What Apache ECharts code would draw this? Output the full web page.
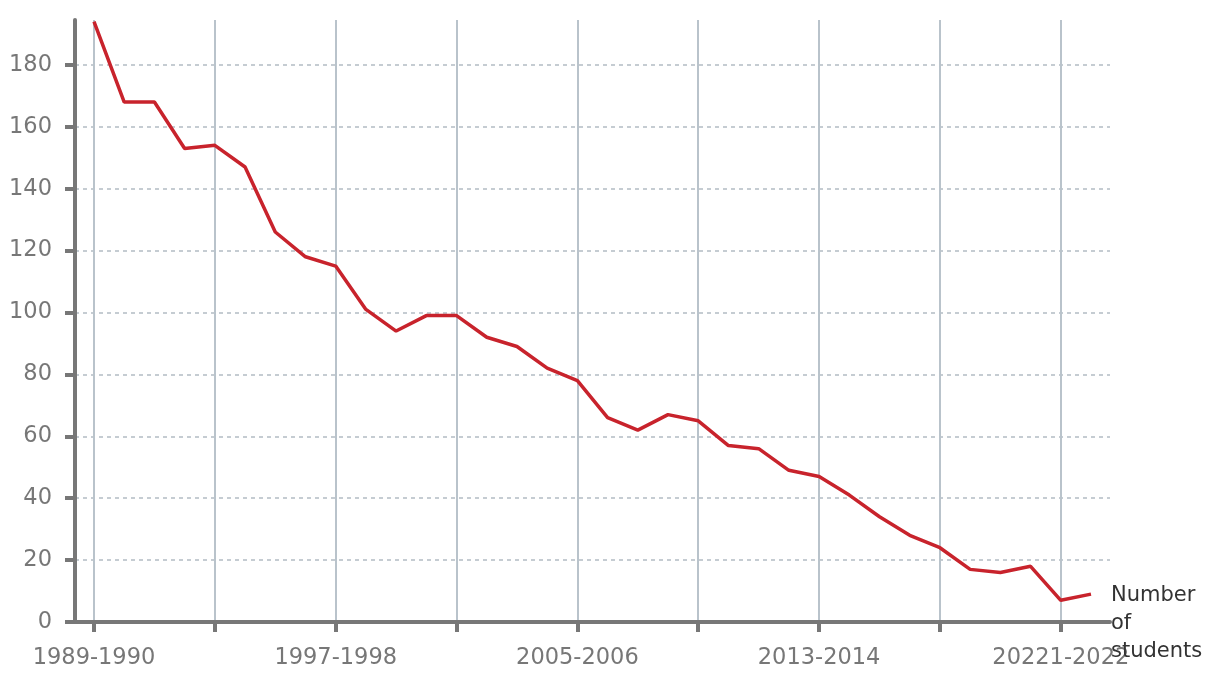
<!DOCTYPE html>
<html>
<head>
<meta charset="utf-8">
<script src="https://cdn.jsdelivr.net/npm/echarts@6/dist/echarts.min.js"></script>
<style>
html,body{margin:0;padding:0;background:#fff;}
#chart{width:1220px;height:682px;}
</style>
</head>
<body>
<div id="chart"></div>
<script>
const categories = [
  "1989-1990","1990-1991","1991-1992","1992-1993","1993-1994","1994-1995","1995-1996","1996-1997",
  "1997-1998","1998-1999","1999-2000","2000-2001","2001-2002","2002-2003","2003-2004","2004-2005",
  "2005-2006","2006-2007","2007-2008","2008-2009","2009-2010","2010-2011","2011-2012","2012-2013",
  "2013-2014","2014-2015","2015-2016","2016-2017","2017-2018","2018-2019","2019-2020","2020-2021",
  "20221-2022","2022-2023"
];
const students = [
  194,168,168,153,154,147,126,118,
  115,101,94,99,99,92,89,82,
  78,66,62,67,65,57,56,49,
  47,41,34,28,24,17,16,18,
  7,9
];
const yTicks = [0,20,40,60,80,100,120,140,160,180];
const seriesLabel = "Number\nof\nstudents";

const FONT = "DejaVu Sans";
const AXIS_COLOR = "#777777";
const YMAX = 194.5;

const chart = echarts.init(document.getElementById('chart'), null, {renderer:'canvas'});
chart.setOption({
  animation: false,
  backgroundColor: '#ffffff',
  grid: [
    {left: 75, right: 110, top: 20, bottom: 60},
    {left: 94, right: 129, top: 20, bottom: 60}
  ],
  xAxis: [
    {
      gridIndex: 0, type: 'value', min: 0, max: 1,
      axisLine: {show: true, lineStyle: {color: AXIS_COLOR, width: 4}},
      axisTick: {show: false}, axisLabel: {show: false}, splitLine: {show: false}
    },
    {
      gridIndex: 1, type: 'category', data: categories, boundaryGap: false,
      axisLine: {show: false},
      axisTick: {show: true, interval: 3, length: 10, lineStyle: {color: AXIS_COLOR, width: 4}},
      axisLabel: {interval: 7, color: AXIS_COLOR, fontSize: 22.5, fontFamily: FONT, margin: 25},
      splitLine: {show: true, interval: 3, lineStyle: {color: '#b9c3cb', width: 2}}
    }
  ],
  yAxis: [
    {
      gridIndex: 0, type: 'value', min: 0, max: YMAX, interval: 20,
      axisLine: {show: true, lineStyle: {color: AXIS_COLOR, width: 4}},
      axisTick: {show: true, length: 10, customValues: yTicks, lineStyle: {color: AXIS_COLOR, width: 4}},
      axisLabel: {customValues: yTicks, color: AXIS_COLOR, fontSize: 22.5, fontFamily: FONT, margin: 23},
      splitLine: {show: true, lineStyle: {color: '#b3bcc4', type: [4, 4], width: 1.5}}
    },
    {
      gridIndex: 1, type: 'value', min: 0, max: YMAX, show: false
    }
  ],
  series: [{
    type: 'line',
    xAxisIndex: 1, yAxisIndex: 1,
    data: students,
    symbol: 'none',
    lineStyle: {color: '#c8232c', width: 3.5},
    itemStyle: {color: '#c8232c'},
    endLabel: {
      show: true,
      formatter: seriesLabel,
      color: '#333333',
      fontSize: 21,
      fontFamily: FONT,
      lineHeight: 28,
      distance: 20,
      align: 'left',
      verticalAlign: 'top',
      offset: [0, -13]
    }
  }]
});
</script>
</body>
</html>
